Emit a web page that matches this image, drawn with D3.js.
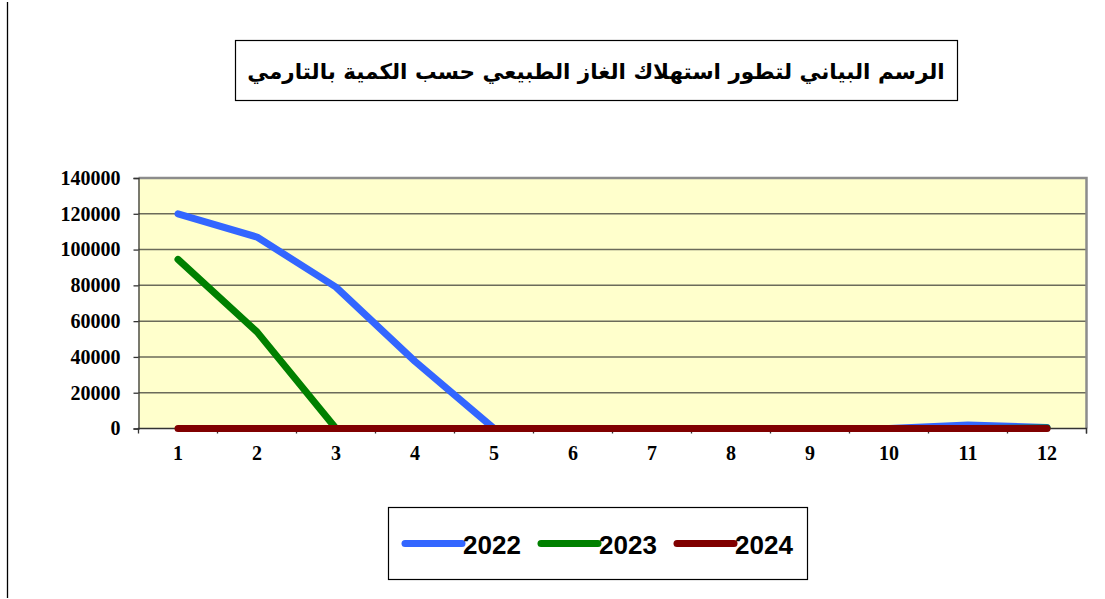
<!DOCTYPE html>
<html>
<head>
<meta charset="utf-8">
<script src="https://cdn.jsdelivr.net/npm/d3@7"></script>
<style>
html,body{margin:0;padding:0;background:#fff;}
svg{display:block;}
</style>
</head>
<body>
<svg id="chart" width="1105" height="599"></svg>
<script>
const titleText = "الرسم البياني لتطور استهلاك الغاز الطبيعي حسب الكمية بالتارمي";
const months = [1,2,3,4,5,6,7,8,9,10,11,12];
const yTicks = [0,20000,40000,60000,80000,100000,120000,140000];
const seriesNames = ["2022","2023","2024"];
const seriesColors = ["#3366FF","#008000","#800000"];
const values2022 = [120000,107000,79000,37500,0,0,0,0,0,0,2000,500];
const values2023 = [94500,54000,0,0,0,0,0,0,0,0,0,300];
const values2024 = [0,0,0,0,0,0,0,0,0,0,0,0];
const allValues = [values2022, values2023, values2024];

const svg = d3.select("#chart");

// left border line
svg.append("line").attr("x1",7.5).attr("x2",7.5).attr("y1",2).attr("y2",598)
  .attr("stroke","#000").attr("stroke-width",1.3);

// title box
svg.append("rect").attr("x",235.5).attr("y",40.5).attr("width",722).attr("height",60)
  .attr("fill","#fff").attr("stroke","#000").attr("stroke-width",1.2);
svg.append("text").attr("x",596).attr("y",79).attr("text-anchor","middle")
  .attr("direction","rtl")
  .attr("font-family","'DejaVu Sans', sans-serif").attr("font-weight","bold")
  .attr("font-size",21.5).attr("fill","#000").text(titleText);

const pL = 138.5, pR = 1086.5, pT = 178, pB = 428.5;
const x = d3.scaleBand().domain(months).range([pL, pR]);
const y = d3.scaleLinear().domain([0,140000]).range([pB, pT]);

// plot area
svg.append("rect").attr("x",pL).attr("y",pT).attr("width",pR-pL).attr("height",pB-pT)
  .attr("fill","#FFFFCC");

// gridlines
svg.append("g").selectAll("line").data(yTicks.filter(d=>d>0 && d<140000)).join("line")
  .attr("x1",pL).attr("x2",pR).attr("y1",d=>y(d)).attr("y2",d=>y(d))
  .attr("stroke","#6b6b5a").attr("stroke-width",1.5);

// top/right border (gray)
svg.append("path").attr("d",`M${pL},${pT}H${pR}V${pB}`)
  .attr("fill","none").attr("stroke","#8c8c8c").attr("stroke-width",2.5);

// y axis
const yAxis = d3.axisLeft(y).tickValues(yTicks).tickSize(5).tickPadding(13).tickFormat(d3.format("d"));
const gy = svg.append("g").attr("transform",`translate(${pL},0)`).call(yAxis);
gy.select(".domain").attr("stroke","#333").attr("stroke-width",1.3);
gy.selectAll(".tick line").attr("stroke","#333").attr("stroke-width",1.3);
gy.selectAll("text").attr("font-family","'Liberation Serif', serif").attr("font-weight","bold")
  .attr("font-size",20).attr("fill","#000");

// x axis
const xAxis = d3.axisBottom(x).tickSize(0).tickPadding(17);
const gx = svg.append("g").attr("transform",`translate(0,${pB})`).call(xAxis);
gx.select(".domain").attr("stroke","#333").attr("stroke-width",1.3).attr("d",`M${pL},0.5V0H${pR}V5`);
gx.selectAll("text").attr("font-family","'Liberation Serif', serif").attr("font-weight","bold")
  .attr("font-size",20).attr("fill","#000");
// category boundary ticks
const boundaries = months.map(m=>x(m)).concat([pR]);
svg.append("g").selectAll("line").data(boundaries).join("line")
  .attr("x1",d=>d).attr("x2",d=>d).attr("y1",pB).attr("y2",pB+5)
  .attr("stroke","#333").attr("stroke-width",1.3);

// lines
const line = d3.line().x((d,i)=>x(months[i])+x.bandwidth()/2).y(d=>y(d));
svg.append("g").selectAll("path").data(allValues).join("path")
  .attr("d",d=>line(d)).attr("fill","none")
  .attr("stroke",(d,i)=>seriesColors[i]).attr("stroke-width",7)
  .attr("stroke-linecap","round").attr("stroke-linejoin","round");

// legend
svg.append("rect").attr("x",388.5).attr("y",507.5).attr("width",419).attr("height",72)
  .attr("fill","#fff").attr("stroke","#000").attr("stroke-width",1.2);
const lg = svg.append("g").selectAll("g").data(seriesNames).join("g")
  .attr("transform",(d,i)=>`translate(${405 + i*136},543.5)`);
lg.append("line").attr("x1",0).attr("x2",57).attr("y1",0).attr("y2",0)
  .attr("stroke",(d,i)=>seriesColors[i]).attr("stroke-width",7).attr("stroke-linecap","round");
lg.append("text").attr("x",58).attr("y",10).text(d=>d)
  .attr("font-family","'Liberation Sans', sans-serif").attr("font-weight","bold")
  .attr("font-size",26).attr("fill","#000");
</script>
</body>
</html>
